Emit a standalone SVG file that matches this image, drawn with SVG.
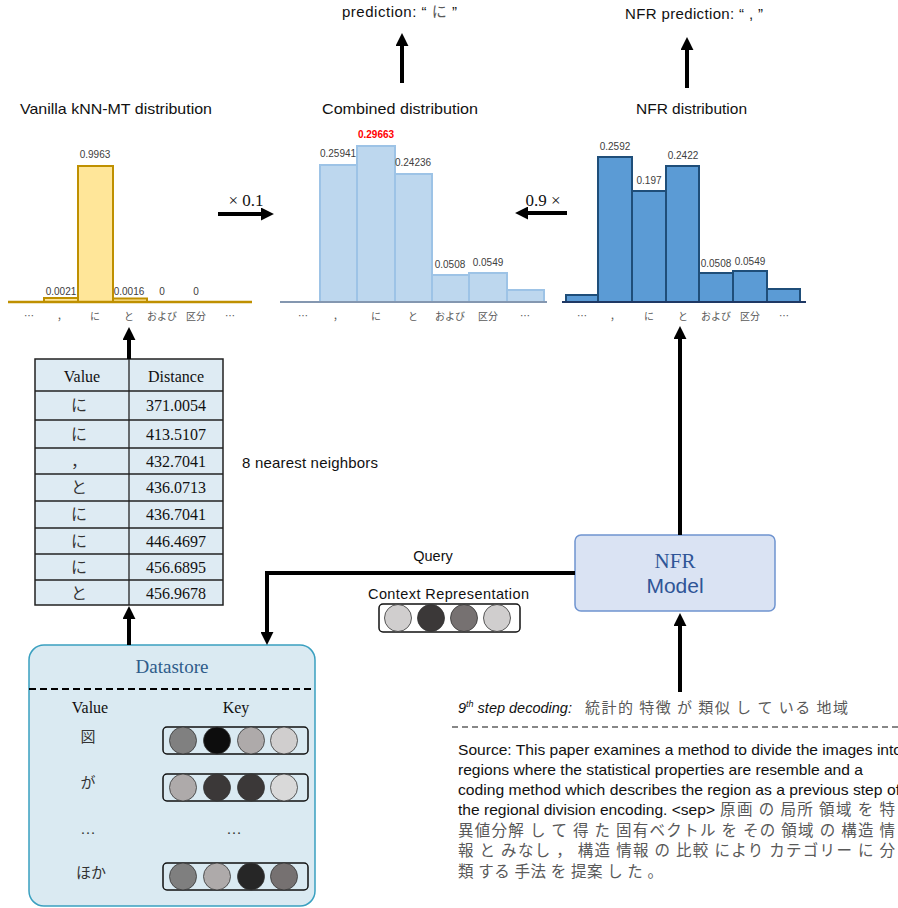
<svg xmlns="http://www.w3.org/2000/svg" width="898" height="908" viewBox="0 0 898 908">
<style>
.sans{font-family:"Liberation Sans","Noto Sans CJK JP",sans-serif}
.serif{font-family:"Liberation Serif","Noto Sans CJK JP",serif}
.jp{font-family:"Noto Sans CJK JP",sans-serif}
.title{font-size:15px;fill:#111}
.val{font-size:10px;fill:#404040;text-anchor:middle}
.cat{font-size:10px;fill:#595959;text-anchor:middle}
.conn{stroke:#000;stroke-width:4;fill:none}
.tbl{font-size:16px;fill:#111;text-anchor:middle}
.gray{fill:#595959}
.src{font-size:14.5px;fill:#111}
</style>
<defs>
<marker id="ah" viewBox="0 0 12 12" refX="1" refY="6" markerWidth="13" markerHeight="13" markerUnits="userSpaceOnUse" orient="auto">
<path d="M0,0 L12,6 L0,12 z" fill="#000"/>
</marker>
</defs>
<rect width="898" height="908" fill="#fff"/>

<!-- Top predictions -->
<g id="pred-combined">
<text x="342" y="17" class="sans" font-size="15" fill="#111" textLength="115" lengthAdjust="spacing">prediction: “ <tspan class="jp gray">に</tspan> ”</text>
</g>
<g id="pred-nfr">
<text x="625" y="19" class="sans" font-size="15" fill="#111" textLength="138" lengthAdjust="spacing">NFR prediction: “ , ”</text>
</g>

<!-- Vanilla kNN-MT distribution -->
<g id="hist-vanilla">
<text x="20" y="114" class="sans title" textLength="192" lengthAdjust="spacingAndGlyphs">Vanilla kNN-MT distribution</text>
<rect x="44" y="298" width="34" height="4" fill="#FFE699" stroke="#BF9000" stroke-width="2"/>
<rect x="78" y="166" width="35" height="136" fill="#FFE699" stroke="#BF9000" stroke-width="2"/>
<rect x="113" y="298.5" width="34" height="3.5" fill="#FFE699" stroke="#BF9000" stroke-width="2"/>
<line x1="8" y1="302" x2="252" y2="302" stroke="#BF9000" stroke-width="2.5"/>
<g class="sans">
<text x="95" y="158" class="val">0.9963</text>
<text x="61" y="295" class="val">0.0021</text>
<text x="129" y="295" class="val">0.0016</text>
<text x="162" y="295" class="val">0</text>
<text x="196" y="295" class="val">0</text>
</g>
<g class="jp">
<text x="29" y="320" class="cat">…</text>
<text x="62" y="320" class="cat">，</text>
<text x="95" y="320" class="cat">に</text>
<text x="129" y="320" class="cat">と</text>
<text x="162" y="320" class="cat">および</text>
<text x="196" y="320" class="cat">区分</text>
<text x="230" y="320" class="cat">…</text>
</g>
</g>

<!-- Combined distribution -->
<g id="hist-combined">
<text x="322" y="114" class="sans title" textLength="156" lengthAdjust="spacingAndGlyphs">Combined distribution</text>
<g fill="#BDD7EE" stroke="#9DC3E6" stroke-width="2">
<rect x="320" y="165" width="37" height="137"/>
<rect x="357" y="146" width="38" height="156"/>
<rect x="395" y="174" width="37" height="128"/>
<rect x="432" y="275" width="37" height="27"/>
<rect x="469" y="273" width="38" height="29"/>
<rect x="507" y="290" width="37" height="12"/>
</g>
<line x1="280" y1="302" x2="547" y2="302" stroke="#8497B0" stroke-width="2"/>
<g class="sans">
<text x="338" y="157" class="val" font-size="11">0.25941</text>
<text x="376" y="138" class="val" style="fill:#FF0000;font-weight:bold">0.29663</text>
<text x="413" y="166" class="val" font-size="11">0.24236</text>
<text x="450" y="268" class="val">0.0508</text>
<text x="488" y="266" class="val">0.0549</text>
</g>
<g class="jp">
<text x="303" y="320" class="cat">…</text>
<text x="338" y="320" class="cat">，</text>
<text x="376" y="320" class="cat">に</text>
<text x="413" y="320" class="cat">と</text>
<text x="450" y="320" class="cat">および</text>
<text x="488" y="320" class="cat">区分</text>
<text x="525" y="320" class="cat">…</text>
</g>
</g>

<!-- NFR distribution -->
<g id="hist-nfr">
<text x="636" y="114" class="sans title" textLength="111" lengthAdjust="spacingAndGlyphs">NFR distribution</text>
<g fill="#5B9BD5" stroke="#1F4E79" stroke-width="2">
<rect x="566" y="295" width="32" height="7"/>
<rect x="598" y="157" width="34" height="145"/>
<rect x="632" y="191" width="34" height="111"/>
<rect x="666" y="166" width="33" height="136"/>
<rect x="699" y="273" width="34" height="29"/>
<rect x="733" y="271" width="34" height="31"/>
<rect x="767" y="289" width="33" height="13"/>
</g>
<line x1="562" y1="302" x2="806" y2="302" stroke="#1F3864" stroke-width="2"/>
<g class="sans">
<text x="615" y="150" class="val">0.2592</text>
<text x="649" y="184" class="val">0.197</text>
<text x="683" y="159" class="val">0.2422</text>
<text x="716" y="267" class="val">0.0508</text>
<text x="750" y="265" class="val">0.0549</text>
</g>
<g class="jp">
<text x="582" y="320" class="cat">…</text>
<text x="615" y="320" class="cat">，</text>
<text x="649" y="320" class="cat">に</text>
<text x="683" y="320" class="cat">と</text>
<text x="716" y="320" class="cat">および</text>
<text x="750" y="320" class="cat">区分</text>
<text x="784" y="320" class="cat">…</text>
</g>
</g>

<!-- weights -->
<g id="weight-01">
<text x="246" y="206" class="serif" font-size="17" fill="#111" text-anchor="middle">× 0.1</text>
</g>
<g id="weight-09">
<text x="543" y="206" class="serif" font-size="17" fill="#111" text-anchor="middle">0.9 ×</text>
</g>

<!-- kNN table -->
<g id="knn-table">
<rect x="35" y="359" width="188" height="246" fill="#DEEBF3" stroke="#222" stroke-width="1.5"/>
<g stroke="#222" stroke-width="1.3">
<line x1="129" y1="359" x2="129" y2="605"/>
<line x1="35" y1="391" x2="223" y2="391"/>
<line x1="35" y1="420" x2="223" y2="420"/>
<line x1="35" y1="448" x2="223" y2="448"/>
<line x1="35" y1="474" x2="223" y2="474"/>
<line x1="35" y1="501" x2="223" y2="501"/>
<line x1="35" y1="528" x2="223" y2="528"/>
<line x1="35" y1="554" x2="223" y2="554"/>
<line x1="35" y1="580" x2="223" y2="580"/>
</g>
<g class="serif tbl">
<text x="82" y="382">Value</text>
<text x="176" y="382">Distance</text>
<text x="176" y="411">371.0054</text>
<text x="176" y="440">413.5107</text>
<text x="176" y="467">432.7041</text>
<text x="176" y="493">436.0713</text>
<text x="176" y="520">436.7041</text>
<text x="176" y="547">446.4697</text>
<text x="176" y="573">456.6895</text>
<text x="176" y="599">456.9678</text>
</g>
<g class="jp tbl" style="fill:#333">
<text x="79" y="411">に</text>
<text x="79" y="440">に</text>
<text x="79" y="467">，</text>
<text x="79" y="493">と</text>
<text x="79" y="520">に</text>
<text x="79" y="547">に</text>
<text x="79" y="573">に</text>
<text x="79" y="599">と</text>
</g>
</g>
<g id="knn-label">
<text x="242" y="468" class="sans" font-size="15" fill="#111" textLength="136" lengthAdjust="spacing">8 nearest neighbors</text>
</g>

<!-- Datastore -->
<g id="datastore">
<rect x="29" y="645" width="286" height="261" rx="15" ry="15" fill="#DAEAF2" stroke="#3AA0C0" stroke-width="1.5"/>
<text x="172" y="673" class="serif" font-size="19" fill="#2E5C8A" text-anchor="middle">Datastore</text>
<line x1="29" y1="689" x2="315" y2="689" stroke="#000" stroke-width="2" stroke-dasharray="7,4"/>
<text x="90" y="713" class="serif" font-size="16" fill="#111" text-anchor="middle">Value</text>
<text x="236" y="713" class="serif" font-size="16" fill="#111" text-anchor="middle">Key</text>
<text x="88" y="742" class="jp" font-size="15" fill="#333" text-anchor="middle">図</text>
<text x="88" y="788" class="jp" font-size="15" fill="#333" text-anchor="middle">が</text>
<text x="88" y="834" class="serif" font-size="15" fill="#333" text-anchor="middle">…</text>
<text x="234" y="834" class="serif" font-size="15" fill="#333" text-anchor="middle">…</text>
<text x="91" y="878" class="jp" font-size="15" fill="#333" text-anchor="middle">ほか</text>
<g stroke="#111" stroke-width="1.5" fill="none">
<rect x="163" y="727" width="145" height="27" rx="4"/>
<rect x="163" y="774" width="145" height="27" rx="4"/>
<rect x="163" y="863" width="145" height="27" rx="4"/>
</g>
<g stroke="#333" stroke-width="0.8">
<circle cx="183" cy="740.5" r="13.5" fill="#808080"/>
<circle cx="217" cy="740.5" r="13.5" fill="#0D0D0D"/>
<circle cx="251" cy="740.5" r="13.5" fill="#AEAAAA"/>
<circle cx="284" cy="740.5" r="13.5" fill="#D0CECE"/>
<circle cx="183" cy="787.5" r="13.5" fill="#AEAAAA"/>
<circle cx="217" cy="787.5" r="13.5" fill="#3B3838"/>
<circle cx="251" cy="787.5" r="13.5" fill="#3B3838"/>
<circle cx="284" cy="787.5" r="13.5" fill="#D9D9D9"/>
<circle cx="183" cy="876.5" r="13.5" fill="#7F7F7F"/>
<circle cx="217" cy="876.5" r="13.5" fill="#AEAAAA"/>
<circle cx="251" cy="876.5" r="13.5" fill="#262626"/>
<circle cx="284" cy="876.5" r="13.5" fill="#767171"/>
</g>
</g>

<!-- NFR Model -->
<g id="nfr-model">
<rect x="575" y="535" width="200" height="76" rx="6" fill="#DAE3F3" stroke="#6F94D0" stroke-width="1.5"/>
<text x="675" y="568" class="serif" font-size="21" fill="#2F5597" text-anchor="middle">NFR</text>
<text x="675" y="593" class="sans" font-size="21" fill="#2F5597" text-anchor="middle">Model</text>
</g>

<!-- Context representation -->
<g id="context-rep">
<text x="433" y="561" class="sans" font-size="14.5" fill="#111" text-anchor="middle">Query</text>
<text x="368" y="599" class="sans" font-size="14.5" fill="#111" textLength="161" lengthAdjust="spacing">Context Representation</text>
<rect x="379" y="604" width="141" height="28" rx="4" fill="none" stroke="#111" stroke-width="1.5"/>
<g stroke="#333" stroke-width="0.8">
<circle cx="398" cy="618" r="13.5" fill="#D0CECE"/>
<circle cx="431" cy="618" r="13.5" fill="#3B3838"/>
<circle cx="464" cy="618" r="13.5" fill="#767171"/>
<circle cx="497" cy="618" r="13.5" fill="#D0CECE"/>
</g>
</g>

<!-- Source / decoding text -->
<g id="source-text">
<text x="458" y="713" class="sans" font-size="14.5" fill="#111" font-style="italic">9<tspan font-size="9" dy="-6">th</tspan><tspan dy="6"> step decoding:</tspan></text>
<text x="585" y="713" class="jp gray" font-size="15" textLength="263" lengthAdjust="spacing">統計的 特徴 が 類似 し て いる 地域</text>
<line x1="452" y1="727" x2="898" y2="727" stroke="#111" stroke-width="1.2" stroke-dasharray="6,4"/>
<text x="458" y="755" class="sans src" textLength="444" lengthAdjust="spacingAndGlyphs">Source: This paper examines a method to divide the images into</text>
<text x="458" y="775" class="sans src" textLength="405" lengthAdjust="spacingAndGlyphs">regions where the statistical properties are resemble and a</text>
<text x="458" y="795" class="sans src" textLength="442" lengthAdjust="spacingAndGlyphs">coding method which describes the region as a previous step of</text>
<text x="458" y="815" class="sans src" textLength="257" lengthAdjust="spacingAndGlyphs">the regional division encoding. &lt;sep&gt;</text>
<text x="720" y="815" class="jp gray" font-size="15.5" textLength="175" lengthAdjust="spacing">原画 の 局所 領域 を 特</text>
<text x="458" y="836" class="jp gray" font-size="15.5" textLength="437" lengthAdjust="spacing">異値分解 し て 得 た 固有ベクトル を その 領域 の 構造 情</text>
<text x="458" y="856" class="jp gray" font-size="15.5" textLength="437" lengthAdjust="spacing">報 と みなし ， 構造 情報 の 比較 により カテゴリー に 分</text>
<text x="458" y="877" class="jp gray" font-size="15.5" textLength="205" lengthAdjust="spacing">類 する 手法 を 提案 し た 。</text>
</g>

<!-- Connectors -->
<g id="connectors">
<line class="conn" x1="402" y1="83" x2="402" y2="45" marker-end="url(#ah)"/>
<line class="conn" x1="687" y1="88" x2="687" y2="49" marker-end="url(#ah)"/>
<line class="conn" x1="218" y1="214" x2="262" y2="214" marker-end="url(#ah)"/>
<line class="conn" x1="567" y1="213" x2="527" y2="213" marker-end="url(#ah)"/>
<line class="conn" x1="129" y1="359" x2="129" y2="339" marker-end="url(#ah)"/>
<line class="conn" x1="129" y1="645" x2="129" y2="618" marker-end="url(#ah)"/>
<polyline class="conn" points="575,573 267,573 267,633" marker-end="url(#ah)"/>
<line class="conn" x1="680" y1="535" x2="680" y2="338" marker-end="url(#ah)"/>
<line class="conn" x1="680" y1="692" x2="680" y2="625" marker-end="url(#ah)"/>
</g>
</svg>
